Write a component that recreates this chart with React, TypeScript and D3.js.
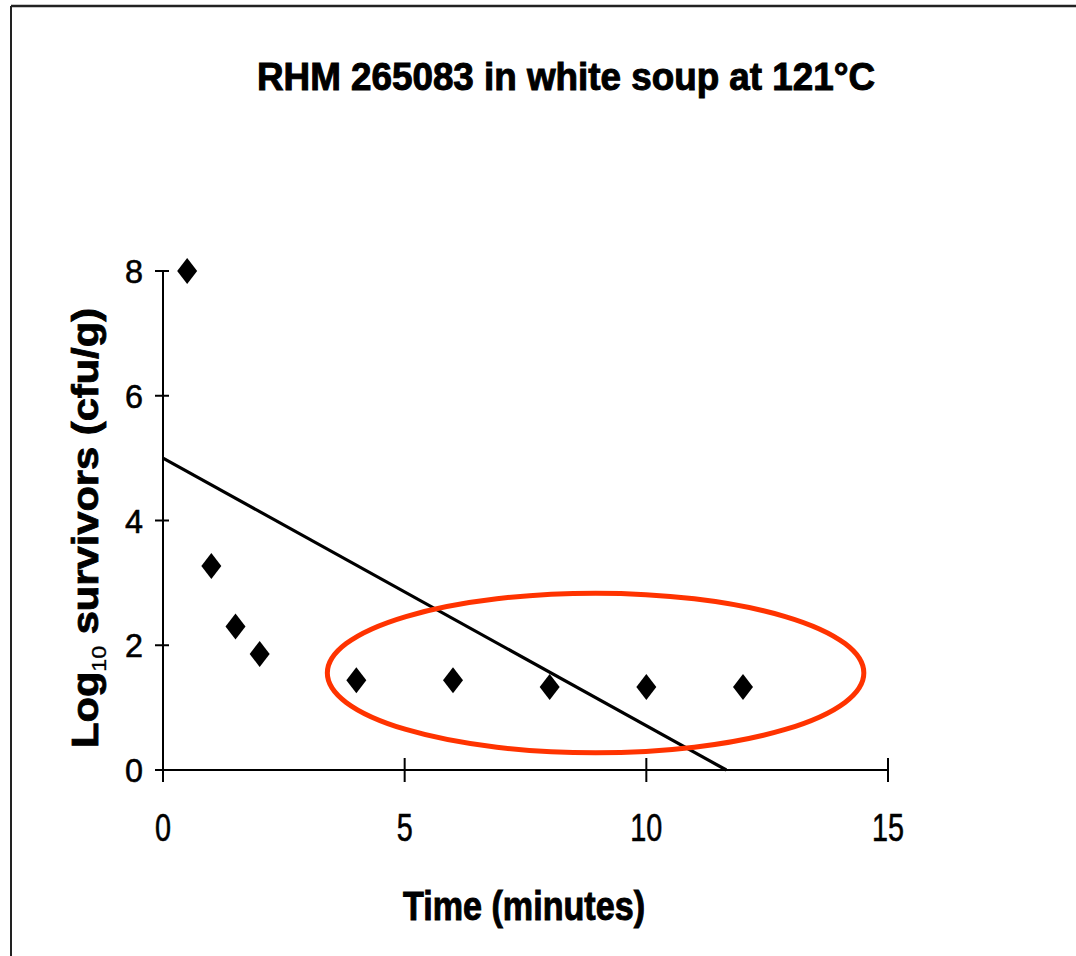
import React from "react";
import * as d3 from "d3";

const title = "RHM 265083 in white soup at 121\u00B0C";
const xLabel = "Time (minutes)";
const timeMinutes = [0.5, 1, 1.5, 2, 4, 6, 8, 10, 12];
const logSurvivors = [8.0, 3.27, 2.3, 1.86, 1.44, 1.44, 1.33, 1.33, 1.33];
const xTicks = [0, 5, 10, 15];
const yTicks = [0, 2, 4, 6, 8];
const fitIntercept = 5.0;
const fitSlope = -0.429;
const highlightCenter = [8.95, 1.555];
const highlightRadii = [5.55, 1.28];

const W = 1076;
const H = 956;
const FONT = "'Liberation Sans Narrow', 'Arial Narrow', 'Liberation Sans', Arial, sans-serif";

export default function App() {
  const x = d3.scaleLinear().domain([0, 15]).range([163, 888]);
  const y = d3.scaleLinear().domain([0, 8]).range([770, 271]);

  const xEnd = -fitIntercept / fitSlope;
  const fitPts: [number, number][] = [
    [0, fitIntercept],
    [xEnd, 0],
  ];
  const line = d3
    .line<[number, number]>()
    .x((d) => x(d[0]))
    .y((d) => y(d[1]));

  const dp = d3.path();
  dp.moveTo(0, -13);
  dp.lineTo(10, 0);
  dp.lineTo(0, 13);
  dp.lineTo(-10, 0);
  dp.closePath();
  const diamond = dp.toString();

  const ecx = x(highlightCenter[0]);
  const ecy = y(highlightCenter[1]);
  const erx = x(highlightCenter[0] + highlightRadii[0]) - ecx;
  const ery = ecy - y(highlightCenter[1] + highlightRadii[1]);

  return (
    <svg
      width={W}
      height={H}
      style={{ position: "absolute", left: 0, top: 0, background: "#fff" }}
    >
      <rect x={0} y={0} width={W} height={H} fill="#fff" />
      {/* frame */}
      <line x1={11} y1={6} x2={11} y2={H} stroke="#222" strokeWidth={2} />
      <line x1={11} y1={6} x2={W} y2={6} stroke="#222" strokeWidth={2.5} />

      {/* title */}
      <text
        x={566}
        y={90}
        textAnchor="middle"
        fontFamily={FONT}
        fontWeight="bold"
        fontSize={38}
        textLength={618}
        lengthAdjust="spacingAndGlyphs"
        stroke="#000"
        strokeWidth={1}
      >
        {title}
      </text>

      {/* y axis */}
      <line x1={x(0)} y1={y(0)} x2={x(0)} y2={y(8)} stroke="#000" strokeWidth={2} />
      {yTicks.map((t) => (
        <g key={"yt" + t}>
          <line x1={x(0) - 8} x2={x(0) + 6} y1={y(t)} y2={y(t)} stroke="#000" strokeWidth={2} />
          <text
            x={143}
            y={y(t) + 12}
            textAnchor="end"
            fontFamily={FONT}
            fontSize={34}
            textLength={18 * String(t).length}
            lengthAdjust="spacingAndGlyphs"
            stroke="#000"
            strokeWidth={0.6}
          >
            {t}
          </text>
        </g>
      ))}

      {/* x axis */}
      <line x1={x(0)} y1={y(0)} x2={x(15)} y2={y(0)} stroke="#000" strokeWidth={2} />
      {xTicks.map((t) => (
        <g key={"xt" + t}>
          <line x1={x(t)} x2={x(t)} y1={y(0) - 12} y2={y(0) + 12} stroke="#000" strokeWidth={2} />
          <text
            x={x(t)}
            y={841}
            textAnchor="middle"
            fontFamily={FONT}
            fontSize={38}
            textLength={16 * String(t).length}
            lengthAdjust="spacingAndGlyphs"
            stroke="#000"
            strokeWidth={0.6}
          >
            {t}
          </text>
        </g>
      ))}

      {/* axis labels */}
      <text
        x={524}
        y={920}
        textAnchor="middle"
        fontFamily={FONT}
        fontWeight="bold"
        fontSize={41}
        textLength={242}
        lengthAdjust="spacingAndGlyphs"
        stroke="#000"
        strokeWidth={1}
      >
        {xLabel}
      </text>
      <text
        transform="translate(98,528) rotate(-90)"
        textAnchor="middle"
        fontFamily={FONT}
        fontWeight="bold"
        fontSize={36}
        textLength={440}
        lengthAdjust="spacingAndGlyphs"
        stroke="#000"
        strokeWidth={0.8}
      >
        <tspan>Log</tspan>
        <tspan fontSize={20} dy={8} fontWeight="normal" strokeWidth={0.3}>10</tspan>
        <tspan dy={-8}> survivors (cfu/g)</tspan>
      </text>

      {/* fitted line */}
      <path d={line(fitPts) || ""} fill="none" stroke="#000" strokeWidth={3.2} />

      {/* points */}
      {timeMinutes.map((t, i) => (
        <path
          key={"p" + i}
          d={diamond}
          transform={`translate(${x(t)},${y(logSurvivors[i])})`}
          fill="#000"
        />
      ))}

      {/* highlight ellipse */}
      <ellipse
        cx={ecx}
        cy={ecy}
        rx={erx}
        ry={ery}
        fill="none"
        stroke="#ff3300"
        strokeWidth={5}
      />
    </svg>
  );
}
